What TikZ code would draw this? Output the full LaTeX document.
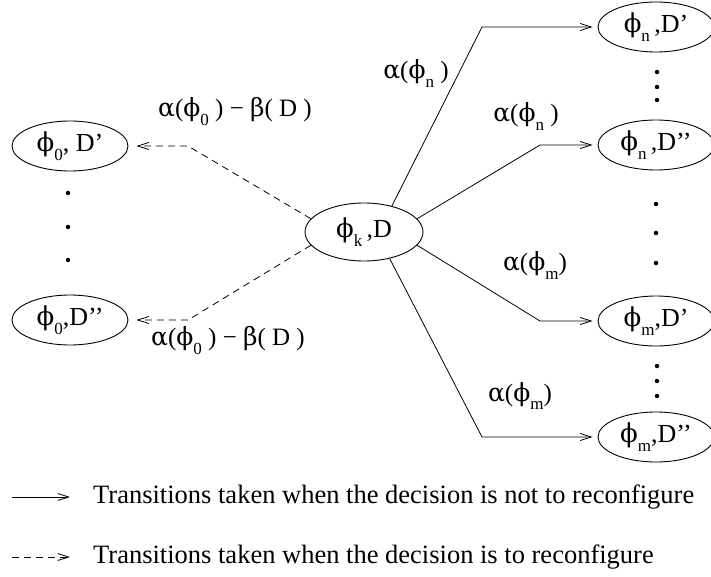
\documentclass[tikz,border=0pt]{standalone}
\usepackage{fontspec}
\setmainfont{Liberation Serif}
\newfontfamily\grk{DejaVu Serif}
\usetikzlibrary{arrows.meta,shapes.geometric}
\newcommand\lsb[1]{\raisebox{-0.36em}{\fontsize{17}{17}\selectfont #1}}
\newcommand\ph[1]{{\grk ϕ}\lsb{#1}}
\newcommand\al{{\grk α}}
\newcommand\be{{\grk β}}
\tikzset{
  state/.style={draw, ellipse, line width=0.9pt, inner sep=0pt,
    minimum width=116pt, minimum height=50pt, font=\fontsize{26}{26}\selectfont},
  lbl/.style={font=\fontsize{25}{25}\selectfont, inner sep=0pt},
  legtext/.style={font=\fontsize{26.5}{26.5}\selectfont, anchor=west, inner sep=0pt},
  arr/.style={line width=0.8pt, -{Straight Barb[length=11pt,width=7pt,line width=0.8pt]}},
  dsh/.style={arr, dash pattern=on 7pt off 5pt},
  dotmark/.style={circle, fill, inner sep=0pt, minimum size=4.5pt},
}
\begin{document}
\begin{tikzpicture}[x=1pt,y=-1pt]
\useasboundingbox (0,0) rectangle (711,577);
% nodes
\node[state, minimum width=118pt, minimum height=58pt] (c) at (364,232) {\ph{k}\,,D};
\node[state] (l1) at (70,146) {\ph{0}, D’};
\node[state] (l2) at (70,320) {\ph{0},D’’};
\node[state] (r1) at (656,27) {\ph{n}\,,D’};
\node[state] (r2) at (656,145) {\ph{n}\,,D’’};
\node[state] (r3) at (656,321) {\ph{m},D’};
\node[state] (r4) at (656,437) {\ph{m},D’’};
% dots
\foreach \n/\x/\y in {d1/68/193, d2/68/227, d3/68/260,
  d4/657/72, d5/657/87, d6/657/100,
  d7/656/204, d8/656/233, d9/656/263,
  d10/657/366, d11/657/381, d12/657/396}
  \node[dotmark] (\n) at (\x,\y) {};
% bend points
\coordinate (b1) at (482,27);
\coordinate (b2) at (540,145);
\coordinate (b3) at (540,321);
\coordinate (b4) at (482,437);
\coordinate (bl1) at (188,146);
\coordinate (bl2) at (188,320);
% connectors
\draw[arr, shorten >=5pt] (c.43) -- (b1) -- (r1.west);
\draw[arr, shorten >=5pt] (c.14) -- (b2) -- (r2.west);
\draw[arr, shorten >=5pt] (c.-14) -- (b3) -- (r3.west);
\draw[arr, shorten >=5pt] (c.-46) -- (b4) -- (r4.west);
\draw[dsh, shorten >=8pt] (c.166) -- (bl1) -- (l1.east);
\draw[dsh, shorten >=8pt] (c.194) -- (bl2) -- (l2.east);
% labels
\node[lbl] (t1) at (235,112) {\al(\ph{0} ) − \be( D )};
\node[lbl] (t2) at (228,341) {\al(\ph{0} ) − \be( D )};
\node[lbl] (t3) at (416,74) {\al(\ph{n} )};
\node[lbl] (t4) at (526,117) {\al(\ph{n} )};
\node[lbl] (t5) at (535,266) {\al(\ph{m})};
\node[lbl] (t6) at (520,396) {\al(\ph{m})};
% legend
\coordinate (s1) at (12,497);
\coordinate (s2) at (70,497);
\coordinate (s3) at (12,557);
\coordinate (s4) at (70,557);
\draw[arr] (s1) -- (s2);
\draw[dsh] (s3) -- (s4);
\node[legtext] (g1) at (93,497) {Transitions taken when the decision is not to reconfigure};
\node[legtext] (g2) at (93,557) {Transitions taken when the decision is to reconfigure};
\end{tikzpicture}
\end{document}
